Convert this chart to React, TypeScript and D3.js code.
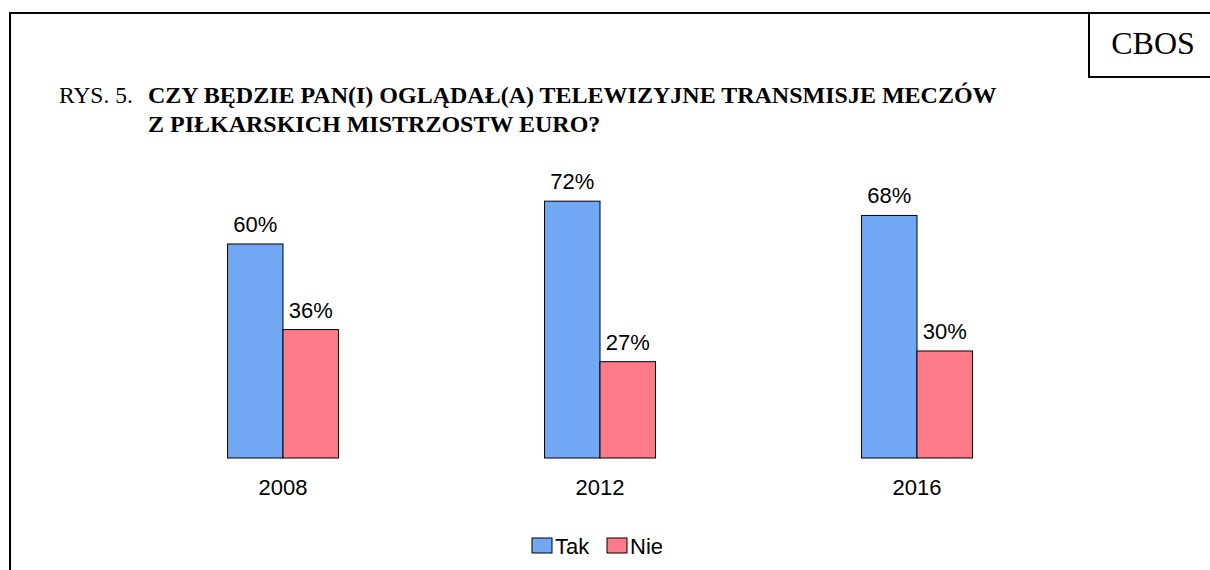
import React from "react";
import * as d3 from "d3";

const years = ["2008", "2012", "2016"];
const tak = [60, 72, 68];
const nie = [36, 27, 30];
const seriesNames = ["Tak", "Nie"];
const seriesColors = ["#70a8f4", "#ff7b8a"];

const titleLines = [
  "CZY BĘDZIE PAN(I) OGLĄDAŁ(A) TELEWIZYJNE TRANSMISJE MECZÓW",
  "Z PIŁKARSKICH MISTRZOSTW EURO?",
];

const W = 1210;
const H = 570;
const sans = "Arial, 'Liberation Sans', sans-serif";
const serif = "'Times New Roman', 'Liberation Serif', serif";

export default function App() {
  const x = d3.scaleBand<string>().domain(years).range([124.5, 1075.5]);
  const y = d3.scaleLinear().domain([0, 100]).range([458, 101.3]);
  const barW = x.bandwidth() * 0.175;
  const series = [tak, nie];

  return (
    <svg
      width={W}
      height={H}
      style={{ position: "absolute", left: 0, top: 0, background: "#fff" }}
    >
      {/* frame */}
      <path d={`M10,${H} V13 H${W}`} fill="none" stroke="#000" strokeWidth={2} />
      <rect x={1089} y={13} width={130} height={64} fill="#fff" stroke="#000" strokeWidth={2} />
      <text x={1153} y={54} textAnchor="middle" fontFamily={serif} fontSize={32}>
        CBOS
      </text>

      {/* title */}
      <text x={59} y={103} fontFamily={serif} fontSize={23.5}>
        RYS. 5.
      </text>
      {titleLines.map((t, i) => (
        <text key={i} x={148} y={103 + i * 29} fontFamily={serif} fontSize={24} fontWeight="bold">
          {t}
        </text>
      ))}

      {/* bars */}
      {years.map((yr, gi) => {
        const cx = (x(yr) as number) + x.bandwidth() / 2;
        return (
          <g key={yr}>
            {series.map((vals, si) => {
              const bx = cx - barW + si * barW;
              const v = vals[gi];
              return (
                <g key={si}>
                  <rect
                    x={bx}
                    y={y(v)}
                    width={barW}
                    height={y(0) - y(v)}
                    fill={seriesColors[si]}
                    stroke="#000"
                    strokeWidth={1}
                  />
                  <text
                    x={bx + barW / 2}
                    y={y(v) - 12}
                    textAnchor="middle"
                    fontFamily={sans}
                    fontSize={22}
                  >
                    {v}%
                  </text>
                </g>
              );
            })}
            <text x={cx} y={495} textAnchor="middle" fontFamily={sans} fontSize={22}>
              {yr}
            </text>
          </g>
        );
      })}

      {/* legend */}
      {seriesNames.map((n, i) => {
        const lx = 532 + i * 75;
        return (
          <g key={n}>
            <rect x={lx} y={538} width={20} height={15} fill={seriesColors[i]} stroke="#000" strokeWidth={1} />
            <text x={lx + 23} y={554} fontFamily={sans} fontSize={22}>
              {n}
            </text>
          </g>
        );
      })}
    </svg>
  );
}
